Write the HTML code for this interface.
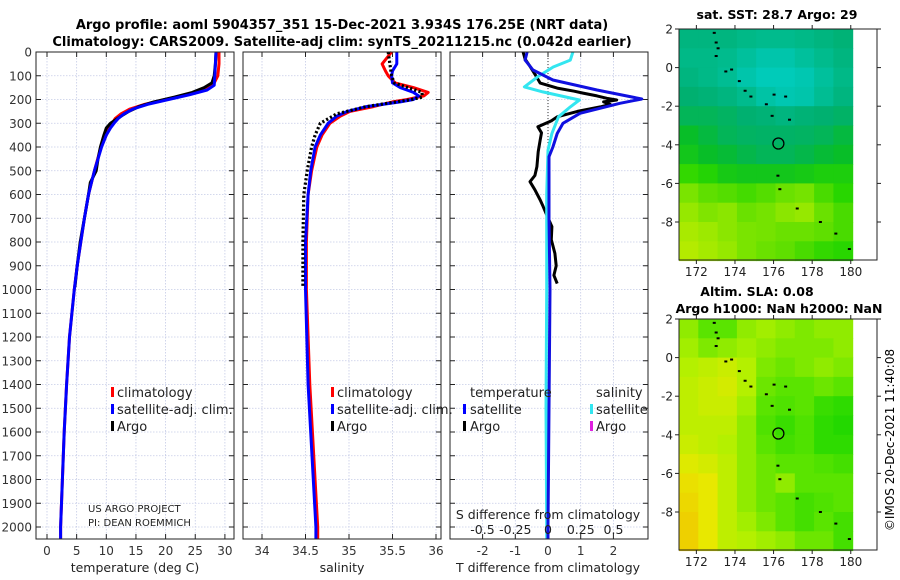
<!DOCTYPE html>
<html><head><meta charset="utf-8">
<style>
html,body{margin:0;padding:0;background:#fff;}
svg{display:block;font-family:"DejaVu Sans","Liberation Sans",sans-serif;}
</style></head>
<body>
<svg id="c" width="900" height="580" viewBox="0 0 900 580" xmlns="http://www.w3.org/2000/svg">
<text x="342" y="29" font-size="13" font-weight="bold" text-anchor="middle">Argo profile: aoml 5904357_351 15-Dec-2021 3.934S 176.25E (NRT data)</text>
<text x="342" y="46" font-size="13" font-weight="bold" text-anchor="middle">Climatology: CARS2009. Satellite-adj clim: synTS_20211215.nc (0.042d earlier)</text>
<text x="777" y="19" font-size="12.5" font-weight="bold" text-anchor="middle">sat. SST: 28.7 Argo: 29</text>
<text x="757" y="296" font-size="12.5" font-weight="bold" text-anchor="middle">Altim. SLA: 0.08</text>
<text x="779" y="313" font-size="12.5" font-weight="bold" text-anchor="middle">Argo h1000: NaN h2000: NaN</text>
<text transform="translate(894,440) rotate(-90)" font-size="12" text-anchor="middle">©IMOS 20-Dec-2021 11:40:08</text>
</svg>
<script>
// ---- data ----
const depthTicks=[0,100,200,300,400,500,600,700,800,900,1000,1100,1200,1300,1400,1500,1600,1700,1800,1900,2000];
const tempTicks=[0,5,10,15,20,25,30];
const salTicks=[34,34.5,35,35.5,36];
const salTickLabels=["34","34.5","35","35.5","36"];
const tdiffTicks=[-2,-1,0,1,2];
const sdiffTicks=[-0.5,-0.25,0,0.25,0.5];
const sdiffTickLabels=["-0.5","-0.25","0","0.25","0.5"];

const tDepth=[0,50,100,140,160,180,200,220,240,260,280,300,320,350,400,500,600,700,800,900,1000,1200,1400,1600,1800,2000,2050];
const tClim=[29,29,28.8,28,26,23.5,20,16.5,14,12.5,11.5,11,10.5,10,9.1,8,7,6.3,5.7,5.1,4.6,3.8,3.3,2.9,2.6,2.3,2.3];
const tSat=[28.5,28.4,28.3,28.2,27,24,20.5,17,14.5,13,12,11.3,10.7,10,9.2,8,7,6.3,5.7,5.1,4.6,3.8,3.3,2.9,2.6,2.3,2.3];
const aDepth=[0,50,100,130,150,170,190,210,230,250,270,300,320,350,400,450,500,550,600,700,800,900,990];
const tArgo=[28.5,28.4,28.2,27.8,26.5,24.5,21.5,18,15.5,13.8,12.5,10.7,10,9.6,9,8.6,8.3,7.3,7,6.3,5.6,5.1,4.7];

const sDepth=[0,50,80,100,130,150,170,185,200,210,230,250,270,300,350,400,500,600,800,1000,1400,2000,2050];
const sClim=[35.49,35.38,35.42,35.45,35.53,35.74,35.91,35.86,35.67,35.5,35.28,35.01,34.9,34.78,34.69,34.63,34.57,34.53,34.51,34.51,34.55,34.64,34.64];
const sSat=[35.55,35.55,35.5,35.49,35.5,35.59,35.74,35.8,35.74,35.59,35.2,34.98,34.86,34.76,34.67,34.61,34.56,34.53,34.5,34.5,34.53,34.62,34.62];
const sArgoDepth=[0,50,100,130,170,190,200,230,260,300,350,400,500,600,800,990];
const sArgo=[35.45,35.47,35.49,35.52,35.84,35.84,35.72,35.2,34.86,34.67,34.61,34.57,34.52,34.48,34.47,34.47];

const dtDepth=[0,34,76,118,160,198,216,258,300,343,400,441,500,700,1000,1500,2000,2050];
const dtSat=[-0.64,-0.7,-0.46,0.15,1.5,2.87,2.2,0.98,0.46,0.28,0.15,0.03,0.03,0.03,0.06,0.03,0,0];
const dsDepth=[0,34,63,105,147,168,202,231,273,343,413,600,1000,1500,2000,2050];
const dsSat=[0.19,0.17,0.04,-0.08,-0.18,-0.04,0.24,0.17,0.08,0.03,0,-0.01,-0.01,-0.015,-0.01,-0.01];
const dtArgoDepth=[0,30,60,100,131,152,165,173,185,195,202,210,220,231,250,273,290,315,340,370,420,483,520,546,580,623,650,679,735,790,848,900,940,975];
const dtArgo=[-0.76,-0.7,-0.55,-0.37,-0.24,0.28,0.8,1.07,1.5,1.8,2.1,1.7,1.9,1.6,0.9,0.28,0.1,-0.31,-0.2,-0.24,-0.3,-0.34,-0.4,-0.55,-0.4,-0.24,-0.15,-0.06,0.12,0.1,0.21,0.25,0.18,0.28];

const lonTicks=[172,174,176,178,180];
const latTicks=[2,0,-2,-4,-6,-8];
const sstGrid=[
[0.25,0.25,0.25,0.22,0.2,0.2,0.22,0.25,0.28],
[0.22,0.22,0.2,0.15,0.1,0.1,0.15,0.2,0.25],
[0.25,0.22,0.18,0.1,0.05,0.05,0.08,0.15,0.22],
[0.3,0.28,0.25,0.2,0.12,0.08,0.1,0.18,0.25],
[0.35,0.35,0.33,0.3,0.28,0.25,0.28,0.3,0.32],
[0.45,0.4,0.35,0.33,0.32,0.32,0.33,0.35,0.4],
[0.5,0.45,0.42,0.38,0.35,0.35,0.38,0.42,0.45],
[0.62,0.58,0.52,0.5,0.5,0.5,0.52,0.55,0.55],
[0.75,0.7,0.68,0.65,0.68,0.72,0.74,0.66,0.6],
[0.8,0.76,0.78,0.72,0.74,0.78,0.8,0.72,0.66],
[0.85,0.82,0.78,0.75,0.74,0.72,0.72,0.7,0.66],
[0.88,0.84,0.8,0.75,0.72,0.7,0.66,0.62,0.6]];
const slaGrid=[
[0.45,0.3,0.3,0.45,0.5,0.45,0.4,0.45,0.45],
[0.5,0.4,0.45,0.5,0.45,0.4,0.4,0.4,0.45],
[0.55,0.6,0.65,0.55,0.4,0.35,0.4,0.45,0.4],
[0.6,0.65,0.7,0.55,0.35,0.3,0.3,0.35,0.3],
[0.6,0.65,0.65,0.5,0.3,0.25,0.3,0.15,0.1],
[0.6,0.6,0.6,0.45,0.25,0.15,0.25,0.1,0.05],
[0.65,0.6,0.55,0.45,0.3,0.2,0.25,0.1,0.1],
[0.75,0.7,0.6,0.45,0.35,0.3,0.3,0.25,0.2],
[0.85,0.8,0.6,0.45,0.35,0.45,0.3,0.3,0.3],
[0.9,0.8,0.6,0.45,0.35,0.3,0.2,0.25,0.3],
[0.95,0.8,0.6,0.5,0.4,0.3,0.2,0.3,0.2],
[0.95,0.8,0.6,0.55,0.5,0.45,0.35,0.35,0.2]];
const coastLon=[172.9,173.0,173.1,173.0,173.5,173.8,174.2,174.5,174.8,175.6,176.0,176.6,175.9,176.8,176.2,176.3,177.2,178.4,179.2,179.9];
const coastLat=[1.8,1.3,1.0,0.6,-0.2,-0.1,-0.7,-1.2,-1.5,-1.9,-1.4,-1.5,-2.5,-2.7,-5.6,-6.3,-7.3,-8.0,-8.6,-9.4];
const argoLon=176.25, argoLat=-3.934;

// ---- helpers ----
const NS="http://www.w3.org/2000/svg";
const svg=document.getElementById('c');
function mk(tag,attrs,parent){const e=document.createElementNS(NS,tag);for(const k in attrs)e.setAttribute(k,attrs[k]);(parent||svg).appendChild(e);return e;}
const TOP=52,BOT=539;
const yD=d=>TOP+d*0.2375;

function panel(name,x0,x1,xf,ticks,labels){
  const g=mk('g',{});
  
  
  depthTicks.forEach(d=>{const l=mk('line',{x1:x0,x2:x1,y1:yD(d),y2:yD(d),stroke:'#c5cbe6','stroke-width':0.8,'stroke-dasharray':'1.5,1.5'},g);
    });
  ticks.forEach(v=>{const l=mk('line',{x1:xf(v),x2:xf(v),y1:TOP,y2:BOT,stroke:'#c5cbe6','stroke-width':0.8,'stroke-dasharray':'1.5,1.5'},g);
    });
  depthTicks.forEach(d=>{mk('line',{x1:x0,x2:x0+5,y1:yD(d),y2:yD(d),stroke:'#222'},g);mk('line',{x1:x1-5,x2:x1,y1:yD(d),y2:yD(d),stroke:'#222'},g);});
  ticks.forEach((v,i)=>{mk('line',{x1:xf(v),x2:xf(v),y1:BOT,y2:BOT-5,stroke:'#222'},g);mk('line',{x1:xf(v),x2:xf(v),y1:TOP,y2:TOP+5,stroke:'#222'},g);
    if(labels){const t=mk('text',{x:xf(v),y:555,'font-size':12,'text-anchor':'middle',fill:'#333'},g);t.textContent=labels[i];
      }});
  return g;
}
function frame(g,x0,x1){const r=mk('rect',{x:x0,y:TOP,width:x1-x0,height:BOT-TOP,fill:'none',stroke:'#222','stroke-width':1},g);
  }
function line(g,name,xs,ds,xf,color,w,dash){
  const pts=xs.map((v,i)=>xf(v).toFixed(1)+','+yD(ds[i]).toFixed(1)).join(' ');
  const p=mk('polyline',{points:pts,fill:'none',stroke:color,'stroke-width':w,'stroke-linejoin':'round'},g);
  if(dash)p.setAttribute('stroke-dasharray',dash);
  
  
  return p;
}
function txt(g,name,x,y,s,size,anchor){const t=mk('text',{x:x,y:y,'font-size':size||13,'text-anchor':anchor||'start',fill:'#222'},g);t.textContent=s;
  return t;}
function legMark(g,x,y,color){const r=mk('rect',{x:x,y:y-10,width:3,height:10,fill:color},g);
  }

depthTicks.forEach(d=>{const t=mk('text',{x:32,y:yD(d)+4.5,'font-size':12,'text-anchor':'end',fill:'#333'});t.textContent=d;
  });

// panel 1 temperature
const xT=v=>47+v*5.93;
const g1=panel('temperature-panel',36,234,xT,tempTicks,tempTicks.map(String));
line(g1,'temp-climatology-line',tClim,tDepth,xT,'#ff0000',3);
line(g1,'temp-argo-line',tArgo,aDepth,xT,'#000',3);
line(g1,'temp-satellite-line',tSat,tDepth,xT,'#0000ff',3);
frame(g1,36,234);
txt(g1,'x-axis-title-temperature',135,572,'temperature (deg C)',12.5,'middle');
legMark(g1,111,397,'#ff0000');txt(g1,'legend-climatology',117,397,'climatology');
legMark(g1,111,414,'#0000ff');txt(g1,'legend-satellite-adj',117,414,'satellite-adj. clim.');
legMark(g1,111,431,'#000');txt(g1,'legend-argo',117,431,'Argo');
txt(g1,'project-label',88,512,'US ARGO PROJECT',10);
txt(g1,'pi-label',88,526,'PI: DEAN ROEMMICH',10);

// panel 2 salinity
const xS=v=>262+(v-34)*87;
const g2=panel('salinity-panel',243,441,xS,salTicks,salTickLabels);
line(g2,'sal-climatology-line',sClim,sDepth,xS,'#ff0000',3);
line(g2,'sal-satellite-line',sSat,sDepth,xS,'#0000ff',3);
line(g2,'sal-argo-line',sArgo,sArgoDepth,xS,'#000',3.2,'2.2,2.2');
frame(g2,243,441);
txt(g2,'x-axis-title-salinity',342,572,'salinity',12.5,'middle');
legMark(g2,331,397,'#ff0000');txt(g2,'legend-climatology',337,397,'climatology');
legMark(g2,331,414,'#0000ff');txt(g2,'legend-satellite-adj',337,414,'satellite-adj. clim.');
legMark(g2,331,431,'#000');txt(g2,'legend-argo',337,431,'Argo');

// panel 3 differences
const xDT=v=>548+v*32.7;
const xDS=v=>548+v*131;
const g3=panel('difference-panel',450,648,xDT,tdiffTicks,tdiffTicks.map(String));
const zl=mk('line',{x1:xDT(0),x2:xDT(0),y1:TOP,y2:yD(450),stroke:'#333','stroke-width':1,'stroke-dasharray':'1,2'},g3);

line(g3,'t-diff-argo-line',dtArgo,dtArgoDepth,xDT,'#000',3);
line(g3,'s-diff-satellite-line',dsSat,dsDepth,xDS,'#33e6f0',3);
line(g3,'t-diff-satellite-line',dtSat,dtDepth,xDT,'#1010e0',3);
frame(g3,450,648);
txt(g3,'x-axis-title-tdiff',548,572,'T difference from climatology',12.5,'middle');
txt(g3,'s-axis-title',548,519,'S difference from climatology',12.5,'middle');
sdiffTicks.forEach((v,i)=>txt(g3,'s-tick-label',xDS(v),534,sdiffTickLabels[i],12.5,'middle'));
txt(g3,'legend-temperature-header',470,397,'temperature');
txt(g3,'legend-salinity-header',596,397,'salinity');
legMark(g3,463,414,'#0000ff');txt(g3,'legend-t-satellite',470,414,'satellite');
legMark(g3,463,431,'#000');txt(g3,'legend-t-argo',470,431,'Argo');
legMark(g3,590,414,'#33e6f0');txt(g3,'legend-s-satellite',596,414,'satellite');
legMark(g3,590,431,'#e020e0');txt(g3,'legend-s-argo',596,431,'Argo');

// ---- maps ----
function lerpC(stops,v){v=Math.max(0,Math.min(1,v));for(let i=0;i<stops.length-1;i++){const a=stops[i],b=stops[i+1];if(v<=b[0]){const t=(v-a[0])/(b[0]-a[0]);return 'rgb('+[1,2,3].map(k=>Math.round(a[k]+(b[k]-a[k])*t)).join(',')+')';}}const l=stops[stops.length-1];return 'rgb('+l[1]+','+l[2]+','+l[3]+')';}
const sstStops=[[0,0,208,200],[0.3,0,176,112],[0.45,8,190,40],[0.6,40,214,0],[0.8,150,232,0],[1,225,240,0]];
const slaStops=[[0,24,214,0],[0.3,90,228,0],[0.55,180,240,0],[0.8,232,232,0],[1,240,200,0]];
function map(name,top,grid,stops){
  const bottom=top+231, L=679, R=877;
  const xL=lon=>679+(lon-171.1)*19.3;
  const yL=lat=>top+(2-lat)*19.3;
  const g=mk('g',{});
  
  
  grid.forEach((row,r)=>row.forEach((v,c)=>{
    const cell=mk('rect',{x:xL(171.1+c).toFixed(1),y:yL(2-r).toFixed(1),width:19.8,height:19.8,fill:lerpC(stops,v)},g);
    
    
  }));
  coastLon.forEach((lo,i)=>{const d=mk('rect',{x:xL(lo)-1,y:yL(coastLat[i])-1,width:3,height:2,fill:'#000'},g);
    });
  const ci=mk('circle',{cx:xL(argoLon),cy:yL(argoLat),r:5.5,fill:'none',stroke:'#000','stroke-width':1.3},g);
  
  const fr=mk('rect',{x:L,y:top,width:R-L,height:bottom-top,fill:'none',stroke:'#222'},g);
  
  lonTicks.forEach(lo=>{mk('line',{x1:xL(lo),x2:xL(lo),y1:bottom,y2:bottom+4,stroke:'#222'},g);mk('line',{x1:xL(lo),x2:xL(lo),y1:top,y2:top-4,stroke:'#222'},g);
    txt(g,'lon-tick-label',xL(lo),bottom+16,String(lo),12,'middle');});
  latTicks.forEach(la=>{mk('line',{x1:L-4,x2:L,y1:yL(la),y2:yL(la),stroke:'#222'},g);mk('line',{x1:R,x2:R+4,y1:yL(la),y2:yL(la),stroke:'#222'},g);
    txt(g,'lat-tick-label',L-6,yL(la)+4.5,String(la),12,'end');});
}
map('sst-map',29,sstGrid,sstStops);
map('sla-map',319,slaGrid,slaStops);
</script>
</body></html>
